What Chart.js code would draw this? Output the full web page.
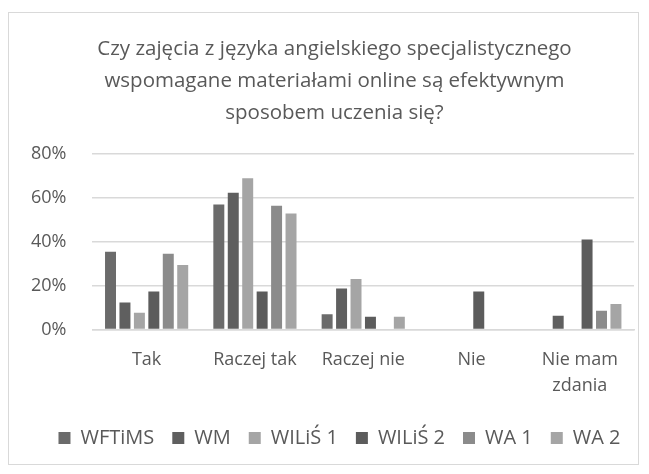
<!DOCTYPE html>
<html>
<head>
<meta charset="utf-8">
<script src="https://cdn.jsdelivr.net/npm/chart.js@4"></script>
<style>
  html, body { margin: 0; padding: 0; background: #fff; }
  #box {
    position: absolute; left: 8px; top: 12px;
    width: 631px; height: 453px;
    border: 1px solid #d9d9d9; box-sizing: border-box;
  }
  canvas { display: block; }
</style>
</head>
<body>
<div id="box"><canvas id="chart"></canvas></div>
<script>
// survey answers per faculty, in percent
const categories = ["Tak", "Raczej tak", "Raczej nie", "Nie", ["Nie mam", "zdania"]];
const seriesNames = ["WFTiMS", "WM", "WILiŚ 1", "WILiŚ 2", "WA 1", "WA 2"];
const wftims = [35.5, 57, 7, 0, 0];
const wm = [12.4, 62.4, 18.7, 0, 6.3];
const wilis1 = [7.7, 69, 23.1, 0, 0];
const wilis2 = [17.4, 17.4, 5.8, 17.4, 41];
const wa1 = [34.6, 56.4, 0, 0, 8.6];
const wa2 = [29.4, 52.9, 5.8, 0, 11.7];
const seriesColors = ["#6b6b6b", "#5f5f5f", "#a5a5a5", "#5c5c5c", "#8b8b8b", "#a5a5a5"];
const yTicks = [0, 20, 40, 60, 80];

const FONT = "'Open Sans', sans-serif";
const TEXT = "#595959";

const values = [wftims, wm, wilis1, wilis2, wa1, wa2];
const datasets = values.map((v, i) => ({
    label: seriesNames[i],
    data: v,
    backgroundColor: seriesColors[i],
    borderWidth: 0,
    barPercentage: 0.76,
    categoryPercentage: 0.8,
}));

// nudge title and legend to the right of the canvas centre
const shiftBlocks = {
    id: "shiftBlocks",
    afterLayout(chart) {
        const t = chart.titleBlock;
        if (t) { t.left += 13; t.right += 13; }
        const l = chart.legend;
        if (l) { l.left += 18; l.right += 18; }
    },
};

new Chart(document.getElementById("chart"), {
    type: "bar",
    data: { labels: categories, datasets: datasets },
    plugins: [shiftBlocks],
    options: {
        responsive: true,
        maintainAspectRatio: false,
        animation: false,
        layout: { padding: { left: 0, right: 4, top: 20, bottom: 6 } },
        plugins: {
            title: {
                display: true,
                text: [
                    "Czy zajęcia z języka angielskiego specjalistycznego",
                    "wspomagane materiałami online są efektywnym",
                    "sposobem uczenia się?"
                ],
                color: TEXT,
                font: { family: FONT, size: 20.5, weight: "normal", lineHeight: 1.561 },
                padding: { top: 0, bottom: 25 },
            },
            legend: {
                position: "bottom",
                labels: {
                    color: TEXT,
                    font: { family: FONT, size: 20 },
                    boxWidth: 12,
                    boxHeight: 12,
                    padding: 18,
                },
            },
            tooltip: { enabled: false },
        },
        scales: {
            x: {
                grid: { display: false },
                border: { color: "#d9d9d9", width: 1.5 },
                ticks: {
                    color: TEXT,
                    font: { family: FONT, size: 18, lineHeight: 1.4 },
                    maxRotation: 0,
                    autoSkip: false,
                    padding: 10,
                },
                // extra room between the category labels and the legend
                afterFit: (axis) => { axis.height += 2; },
            },
            y: {
                min: 0,
                max: 80,
                afterBuildTicks: (axis) => { axis.ticks = yTicks.map(v => ({ value: v })); },
                afterFit: (axis) => { axis.width -= 4; },
                grid: { color: "#d9d9d9", lineWidth: 1.5, drawTicks: false },
                border: { display: false },
                ticks: {
                    color: TEXT,
                    font: { family: FONT, size: 18 },
                    padding: 26,
                    callback: (v) => v + "%",
                },
            },
        },
    },
});
</script>
</body>
</html>
